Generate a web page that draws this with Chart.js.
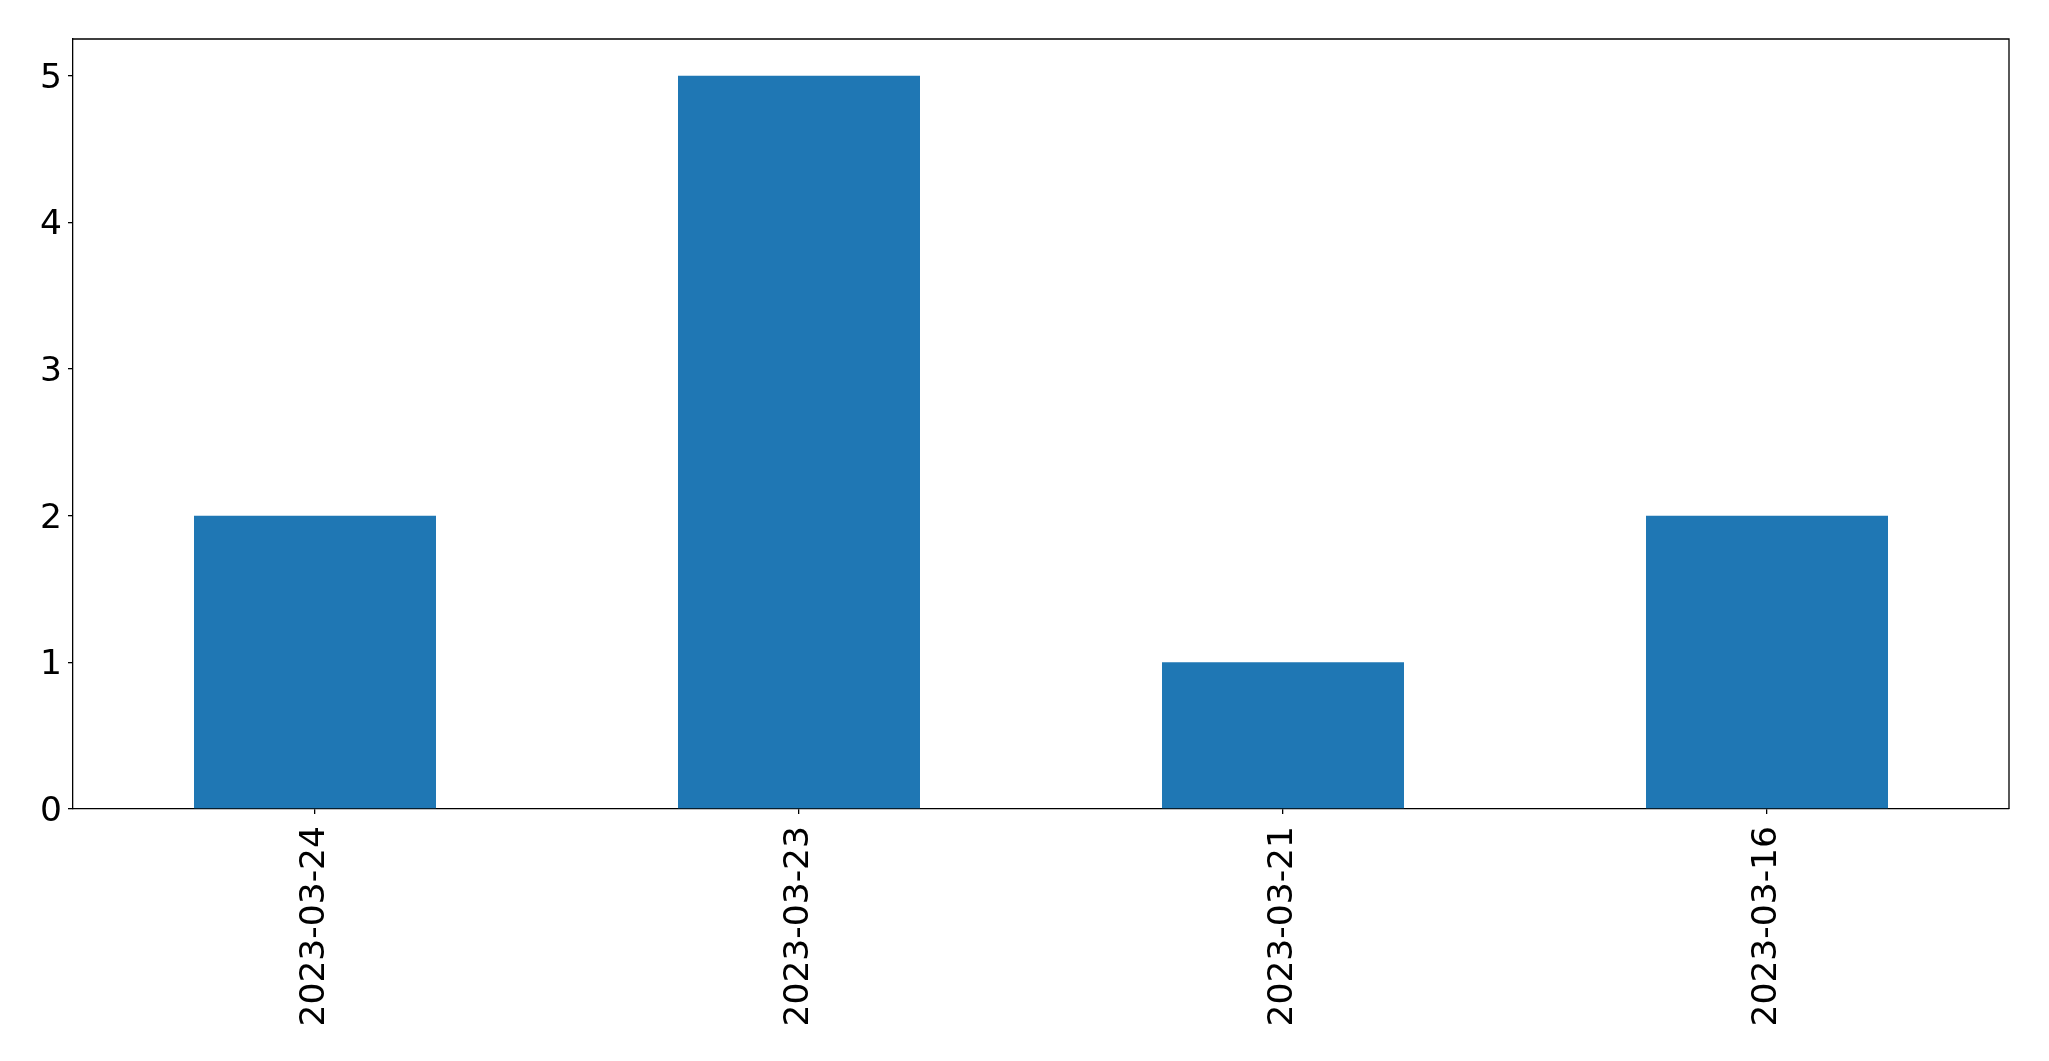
<!DOCTYPE html>
<html>
<head>
<meta charset="utf-8">
<script src="https://cdn.jsdelivr.net/npm/chart.js@4.4.1/dist/chart.umd.min.js"></script>
<style>
  html, body { margin: 0; padding: 0; background: #fff; }
  #wrap { width: 2049px; height: 1061px; }
</style>
</head>
<body>
<div id="wrap"><canvas id="barChart" width="2049" height="1061"></canvas></div>
<script>
// Data
const categories = ['2023-03-24', '2023-03-23', '2023-03-21', '2023-03-16'];
const counts = [2, 5, 1, 2];
const yTicks = [0, 1, 2, 3, 4, 5];

const FONT = "'DejaVu Sans', sans-serif";

// Draw top and right spines like matplotlib
const frame = {
  id: 'frame',
  afterDraw(chart) {
    const { ctx, chartArea: a } = chart;
    ctx.save();
    ctx.strokeStyle = '#000';
    ctx.lineWidth = 1.3;
    ctx.beginPath();
    ctx.moveTo(a.left, a.top);
    ctx.lineTo(a.right, a.top);
    ctx.lineTo(a.right, a.bottom);
    ctx.stroke();
    ctx.restore();
  }
};

const ctx = document.getElementById('barChart').getContext('2d');
new Chart(ctx, {
  type: 'bar',
  data: {
    labels: categories,
    datasets: [{
      data: counts,
      backgroundColor: '#1f77b4',
      borderWidth: 0,
      barPercentage: 0.5,
      categoryPercentage: 1.0
    }]
  },
  options: {
    responsive: false,
    animation: false,
    layout: { padding: { top: 39, right: 40, left: 0, bottom: 0 } },
    plugins: {
      legend: { display: false },
      tooltip: { enabled: false }
    },
    scales: {
      x: {
        grid: { offset: false, drawOnChartArea: false, drawTicks: true, tickLength: 5, color: '#000', lineWidth: 1.3 },
        border: { display: true, color: '#000', width: 1.3 },
        ticks: {
          color: '#000',
          font: { family: FONT, size: 34.5 },
          minRotation: 90,
          maxRotation: 90,
          padding: 12,
          autoSkip: false
        },
        afterFit(scale) { scale.height = 252; }
      },
      y: {
        min: 0,
        max: 5.25,
        grid: { drawOnChartArea: false, drawTicks: true, tickLength: 5, color: '#000', lineWidth: 1.3 },
        border: { display: true, color: '#000', width: 1.3 },
        ticks: {
          color: '#000',
          font: { family: FONT, size: 34.5 },
          padding: 6,
          labelOffset: 3
        },
        afterBuildTicks(scale) {
          scale.ticks = yTicks.map(v => ({ value: v }));
        },
        afterFit(scale) { scale.width = 73; }
      }
    }
  },
  plugins: [frame]
});
</script>
</body>
</html>
